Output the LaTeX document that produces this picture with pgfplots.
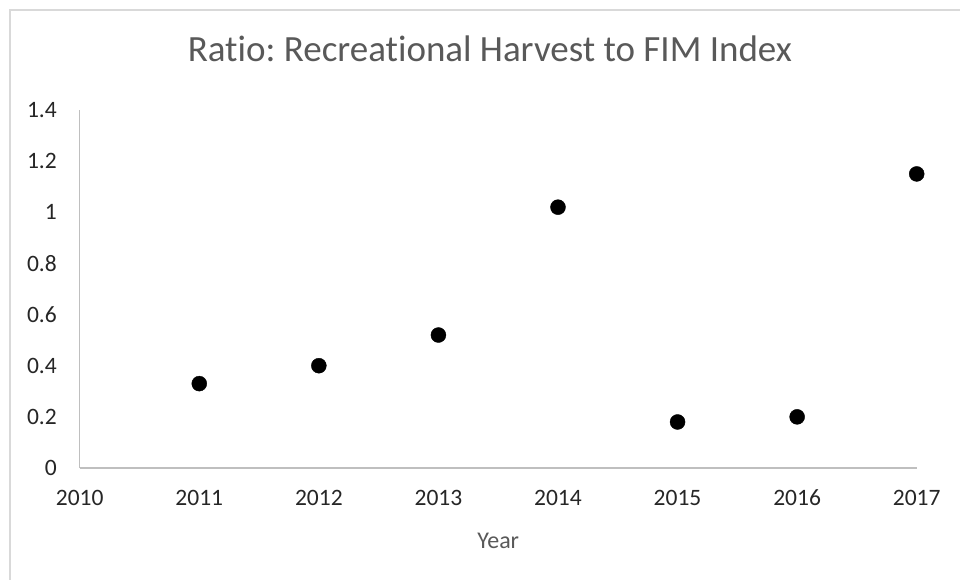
\documentclass[border=0pt]{standalone}
\usepackage{pgfplots}
\pgfplotsset{compat=1.18}
\usepackage{fontspec}
\setmainfont{Carlito}[Ligatures=NoCommon]
\frenchspacing
\definecolor{axisgray}{HTML}{BFBFBF}
\definecolor{titlegray}{HTML}{595959}
\definecolor{tickgray}{HTML}{262626}
\definecolor{bordergray}{HTML}{D9D9D9}
\begin{document}
\begin{tikzpicture}
\useasboundingbox (0,0) rectangle (960bp,580bp);
\fill[white] (0,0) rectangle (960bp,580bp);
\draw[bordergray, line width=1.5bp] (10bp,0) -- (10bp,570bp) -- (960bp,570bp);
\begin{axis}[
  at={(79.7bp,112bp)}, anchor=south west,
  scale only axis, width=837bp, height=358bp,
  xmin=2010, xmax=2017, ymin=0, ymax=1.4,
  xtick={2010,2011,2012,2013,2014,2015,2016,2017},
  ytick={0,0.2,0.4,0.6,0.8,1,1.2,1.4},
  axis x line*=bottom, axis y line*=left,
  axis line style={-, axisgray, line width=1.5bp},
  major tick length=0pt,
  /pgf/number format/assume math mode=true,
  /pgf/number format/1000 sep={},
  xticklabel style={anchor=base, inner sep=0pt, yshift=-37bp, text=tickgray, font=\fontsize{23.5bp}{26bp}\selectfont},
  yticklabel style={anchor=east, inner sep=0pt, xshift=-22.7bp, text=tickgray, font=\fontsize{23.5bp}{26bp}\selectfont},
  title={Ratio: Recreational Harvest to FIM Index},
  title style={at={(rel axis cs:0.49,1.120)}, anchor=base, inner sep=0pt, text=titlegray, font=\fontsize{37bp}{40bp}\selectfont},
  xlabel={Year},
  xlabel style={at={(rel axis cs:0.5,-0.2235)}, anchor=base, inner sep=0pt, text=titlegray, font=\fontsize{24bp}{28bp}\selectfont},
  clip=false,
]
\addplot[only marks, mark=*, mark size=7.5bp, black, mark options={fill=black, draw=black}] coordinates {
  (2011,0.33)
  (2012,0.40)
  (2013,0.52)
  (2014,1.02)
  (2015,0.18)
  (2016,0.20)
  (2017,1.15)
};
\end{axis}
\end{tikzpicture}
\end{document}
